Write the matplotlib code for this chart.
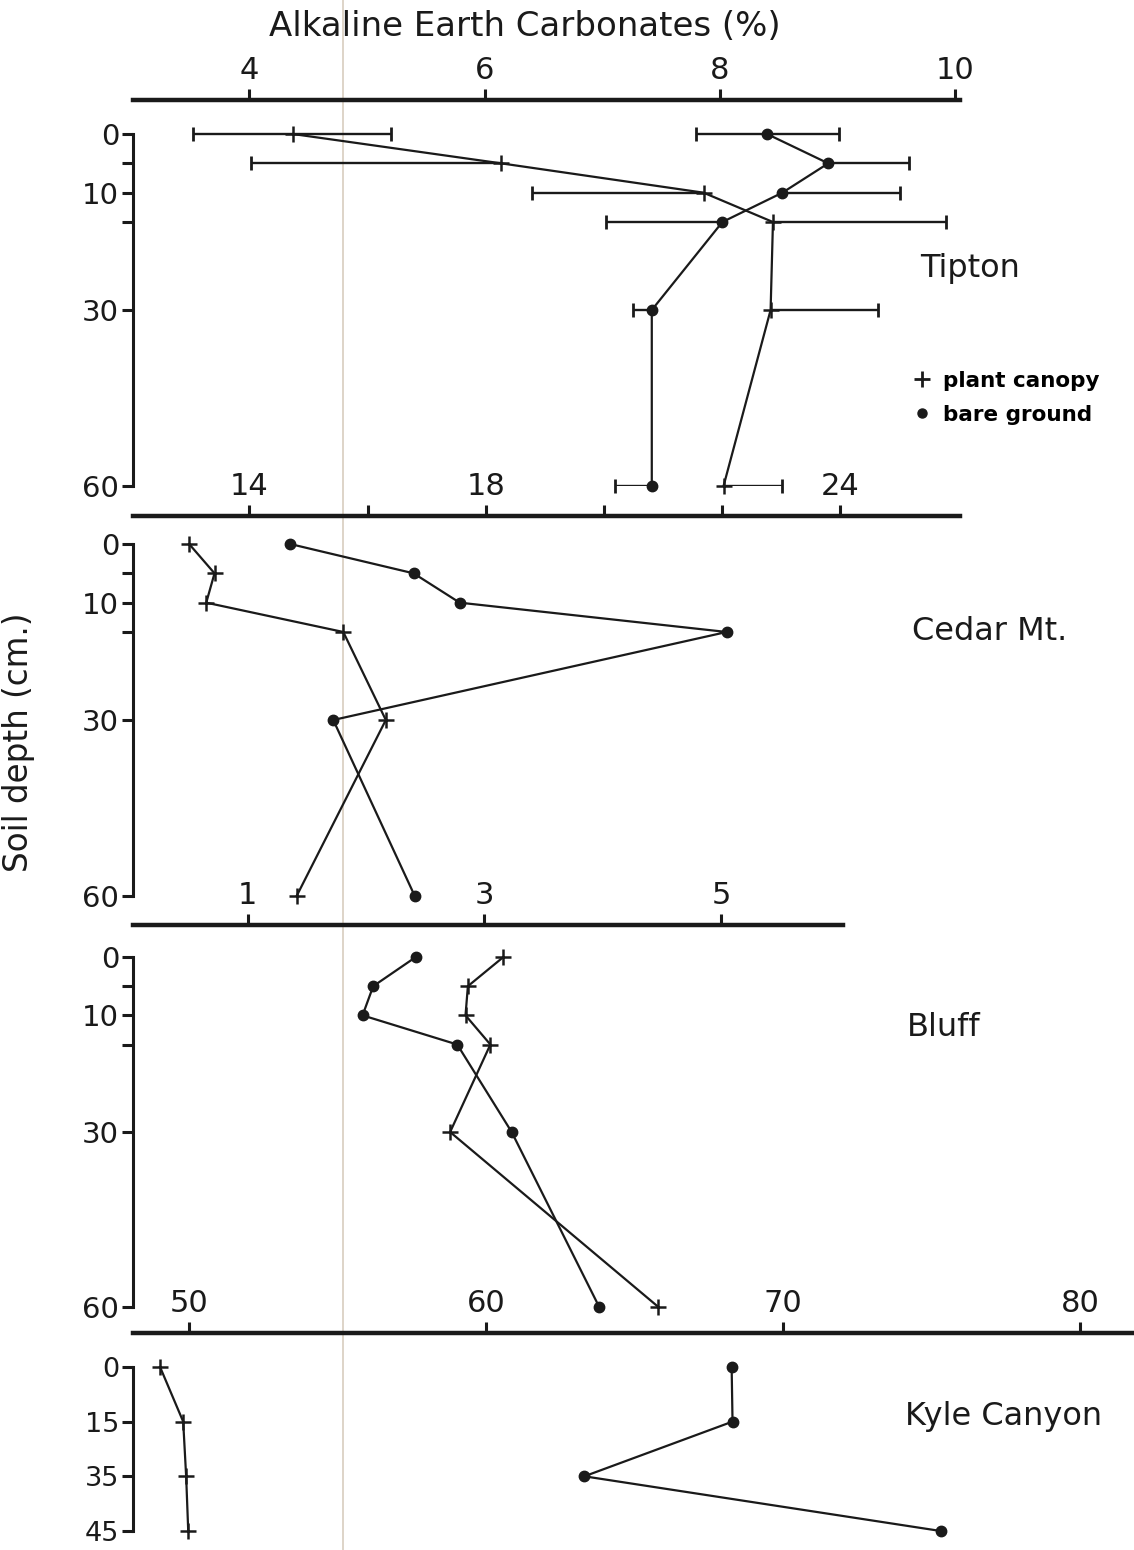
import numpy as np
import matplotlib
matplotlib.use("Agg")
import matplotlib.pyplot as plt
from matplotlib.lines import Line2D

# depth axis (cm) for Tipton, Cedar Mt. and Bluff
depths = [0, 5, 10, 15, 30, 60]
depth_ticks = [0, 5, 10, 15, 30, 60]
depth_labels = ["0", "", "10", "", "30", "60"]

# Tipton, with one-sided error bars
tipton_canopy = [4.37, 6.14, 7.86, 8.45, 8.43, 8.03]
tipton_canopy_lo = [0.85, 2.13, 1.46, 0.0, 0.0, 0.0]
tipton_canopy_hi = [0.83, 0.0, 0.0, 1.47, 0.91, 0.50]
tipton_bare = [8.40, 8.92, 8.53, 8.02, 7.42, 7.42]
tipton_bare_lo = [0.60, 0.0, 0.0, 0.99, 0.16, 0.31]
tipton_bare_hi = [0.61, 0.69, 1.00, 0.0, 0.0, 0.0]

# Cedar Mt.
cedar_canopy = [12.98, 13.41, 13.27, 15.59, 16.31, 14.80]
cedar_bare = [14.69, 16.78, 17.56, 22.08, 15.42, 16.80]

# Bluff
bluff_canopy = [3.16, 2.86, 2.84, 3.05, 2.71, 4.47]
bluff_bare = [2.42, 2.06, 1.97, 2.77, 3.23, 3.97]

# Kyle Canyon (depths evenly spaced in the drawing)
kyle_depths = ["0", "15", "35", "45"]
kyle_canopy = [49.02, 49.80, 49.90, 49.97]
kyle_bare = [68.27, 68.30, 63.31, 75.31]

W, H = 1134, 1550
plt.rcParams["font.family"] = ["DejaVu Sans"]
fig = plt.figure(figsize=(W / 100, H / 100), dpi=100)
INK = "#1a1a1a"


def px_rect(left, top, right, bottom):
    return [left / W, 1 - bottom / H, (right - left) / W, (bottom - top) / H]


def setup(ax, xlim, ylim, xticks, xlabels, yticks, ylabels, ybounds):
    ax.set_facecolor("none")
    ax.set_xlim(*xlim)
    ax.set_ylim(*ylim)
    ax.xaxis.tick_top()
    ax.set_xticks(xticks)
    ax.set_xticklabels(xlabels)
    ax.set_yticks(yticks)
    ax.set_yticklabels(ylabels)
    for s in ("bottom", "right"):
        ax.spines[s].set_visible(False)
    ax.spines["top"].set_linewidth(3.2)
    ax.spines["top"].set_color(INK)
    ax.spines["left"].set_linewidth(2.2)
    ax.spines["left"].set_color(INK)
    ax.spines["left"].set_bounds(*ybounds)
    ax.tick_params(axis="x", direction="out", length=8, width=2.2,
                   labelsize=22, pad=3, colors=INK)
    ax.tick_params(axis="y", direction="out", length=8, width=2.2,
                   labelsize=21, pad=2, colors=INK)


def profile(ax, x, y, marker):
    if marker == "+":
        ax.plot(x, y, color=INK, lw=1.6, marker="+", ms=12, mew=1.8,
                clip_on=False, zorder=3)
    else:
        ax.plot(x, y, color=INK, lw=1.6, marker="o", ms=7.5,
                clip_on=False, zorder=3)


def err(ax, x, y, lo, hi):
    x, y, lo, hi = map(np.asarray, (x, y, lo, hi))
    ax.hlines(y, x - lo, x + hi, color=INK, lw=1.7, zorder=2)
    m = lo > 0
    ax.plot((x - lo)[m], y[m], ls="none", marker="|", ms=10, mew=2.0,
            color=INK, clip_on=False)
    m = hi > 0
    ax.plot((x + hi)[m], y[m], ls="none", marker="|", ms=10, mew=2.0,
            color=INK, clip_on=False)


# Tipton
ax1 = fig.add_axes(px_rect(133, 100, 960, 486))
setup(ax1, (3.01, 10.04), (60, -5.8), [4, 6, 8, 10], ["4", "6", "8", "10"],
      depth_ticks, depth_labels, (0, 60))
err(ax1, tipton_canopy, depths, tipton_canopy_lo, tipton_canopy_hi)
err(ax1, tipton_bare, depths, tipton_bare_lo, tipton_bare_hi)
profile(ax1, tipton_canopy, depths, "+")
profile(ax1, tipton_bare, depths, "o")

# Cedar Mt.
ax2 = fig.add_axes(px_rect(133, 516, 960, 896))
setup(ax2, (12.03, 26.03), (60, -4.77), [14, 16, 18, 20, 22, 24],
      ["14", "", "18", "", "", "24"], depth_ticks, depth_labels, (0, 60))
profile(ax2, cedar_canopy, depths, "+")
profile(ax2, cedar_bare, depths, "o")

# Bluff
ax3 = fig.add_axes(px_rect(133, 925, 843, 1307))
setup(ax3, (0.03, 6.03), (60, -5.49), [1, 3, 5], ["1", "3", "5"],
      depth_ticks, depth_labels, (0, 60))
profile(ax3, bluff_canopy, depths, "+")
profile(ax3, bluff_bare, depths, "o")

# Kyle Canyon
ax4 = fig.add_axes(px_rect(133, 1333, 1134, 1531))
kpos = np.arange(len(kyle_depths))
setup(ax4, (48.11, 81.82), (3, -0.62), [50, 60, 70, 80],
      ["50", "60", "70", "80"], kpos, kyle_depths, (0, 3))
ax4.tick_params(axis="y", labelsize=19.5)
profile(ax4, kyle_canopy, kpos, "+")
profile(ax4, kyle_bare, kpos, "o")

# texts
fig.text(525 / W, 1 - 27 / H, "Alkaline Earth Carbonates (%)", fontsize=24.5,
         ha="center", va="center", color=INK)
fig.text(19 / W, 1 - 742 / H, "Soil depth (cm.)", fontsize=23.5, rotation=90,
         ha="center", va="center", color=INK)
for name, xp, yp in [("Tipton", 920, 268), ("Cedar Mt.", 912, 632),
                     ("Bluff", 907, 1028), ("Kyle Canyon", 905, 1417)]:
    fig.text(xp / W, 1 - yp / H, name, fontsize=23, ha="left", va="center",
             color=INK)

handles = [Line2D([], [], ls="none", marker="+", ms=12, mew=2.0, color=INK),
           Line2D([], [], ls="none", marker="o", ms=6.5, color=INK)]
fig.legend(handles, ["plant canopy", "bare ground"], loc="upper left",
           bbox_to_anchor=(900 / W, 1 - 360 / H), frameon=False,
           prop={"size": 15.5, "weight": "bold"}, handlelength=1.0,
           handletextpad=0.5, labelspacing=0.65, borderpad=0)

# faint fold line from the scanned page
fig.add_artist(Line2D([343 / W, 343 / W], [0, 1], transform=fig.transFigure,
                      color="#d8cdbf", lw=1.2, zorder=0))

fig.savefig("out.png", dpi=100, facecolor="white")
